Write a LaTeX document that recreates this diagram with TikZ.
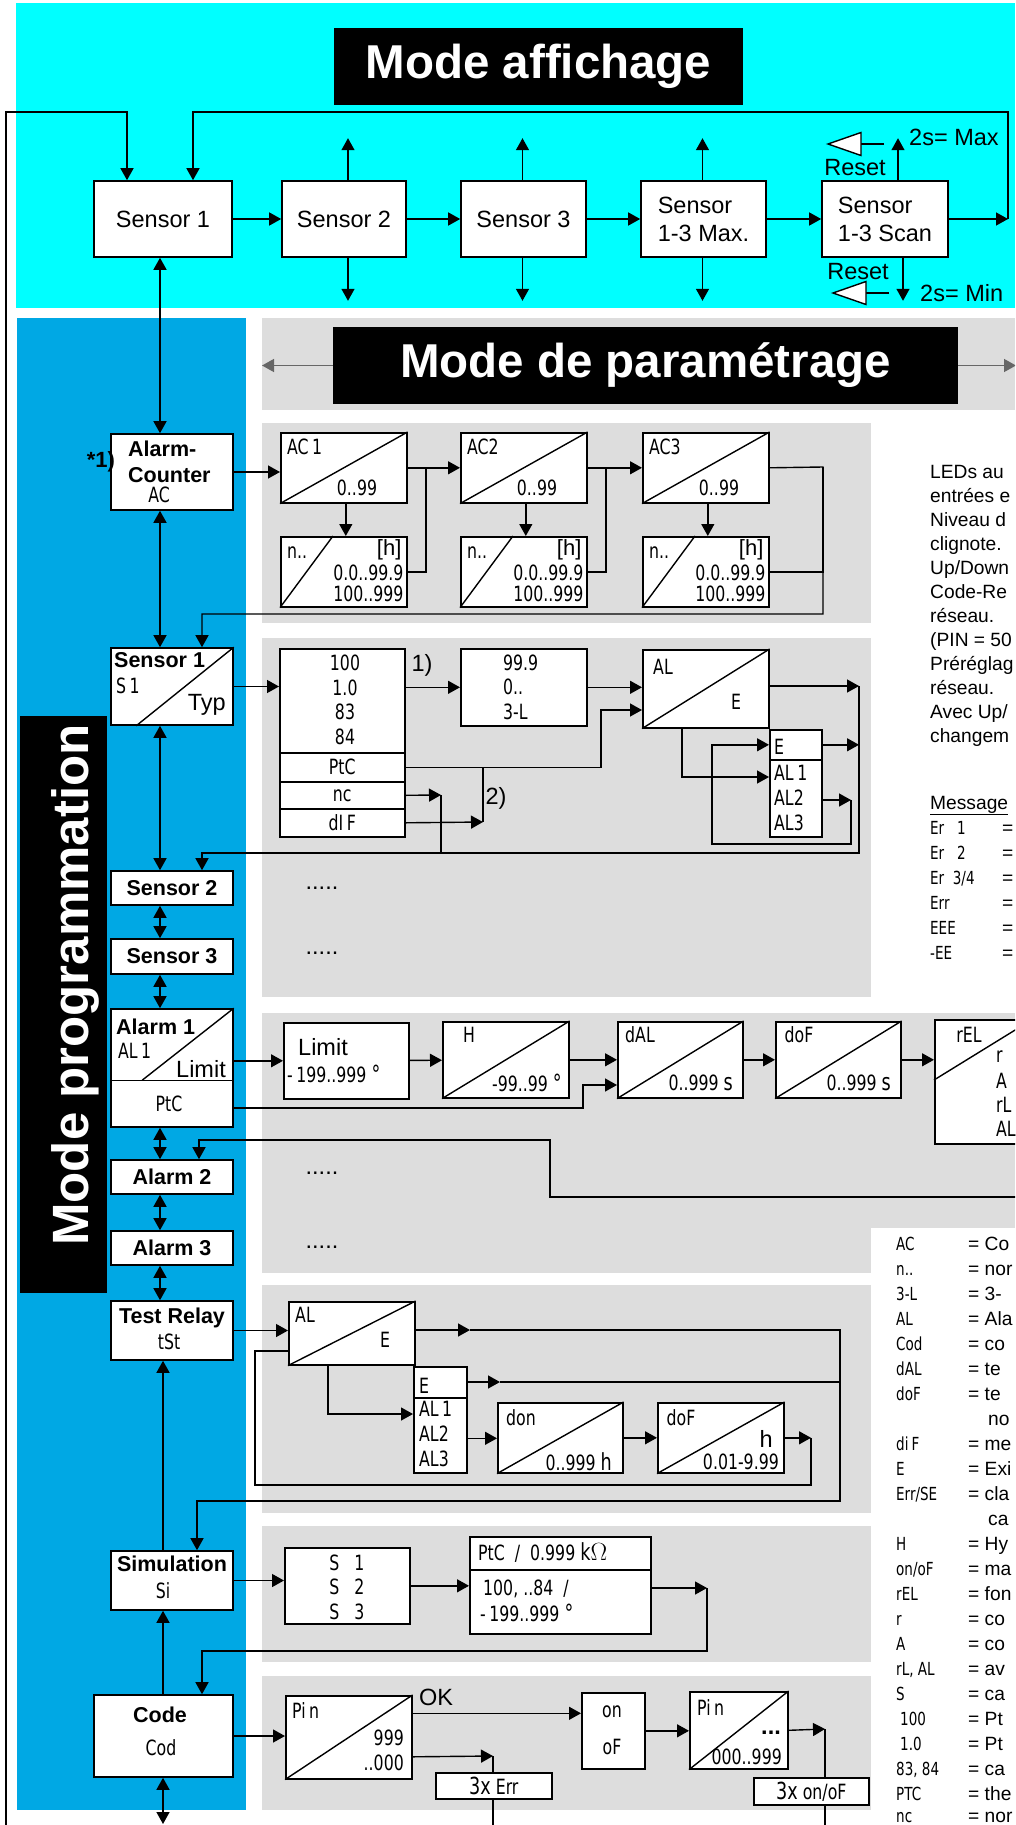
\documentclass[tikz,border=0pt]{standalone}
\usepackage{fontspec}
\setmainfont{Liberation Sans}
\newfontfamily\segfont[FakeStretch=0.75]{DejaVu Sans}
\usetikzlibrary{arrows.meta,positioning,calc}

\definecolor{affcyan}{RGB}{0,255,255}
\definecolor{progblue}{RGB}{0,168,228}
\definecolor{paramgray}{RGB}{221,221,221}

\newcommand*{\normtxt}{\fontsize{23.5}{28}\selectfont}
\newcommand*{\progtxt}{\bfseries\fontsize{21.5}{25}\selectfont}
\newcommand*{\infotxt}{\fontsize{19.2}{24}\selectfont}
\newcommand*{\lcdtxt}{\segfont\fontsize{21}{24.6}\selectfont}
\newcommand*{\lcdsmall}{\segfont\fontsize{18}{22}\selectfont}
\newcommand*{\titletxt}{\bfseries\fontsize{47.5}{50}\selectfont}

\begin{document}
\begin{tikzpicture}[
  x=1pt, y=-1pt,
  conn/.style={line width=1.4pt},
  arr/.style={conn, -{Triangle[length=12pt,width=13pt]}},
  dblarr/.style={conn, {Triangle[length=12pt,width=13pt]}-{Triangle[length=12pt,width=13pt]}},
  txt/.style={inner sep=0pt},
  box/.style={draw, fill=white, line width=1.6pt, inner sep=0pt},
  disp/.style={box, font=\normtxt, align=left},
  prog/.style={box, font=\progtxt, minimum width=122},
  lcd/.style={box, anchor=north west, font=\lcdtxt},
  title/.style={fill=black, text=white, inner sep=0pt, font=\titletxt},
  info/.style={txt, font=\infotxt, anchor=base west},
  legcode/.style={txt, font=\lcdsmall, anchor=base west},
]
  \useasboundingbox (0,0) rectangle (1015,1825);
  \clip (0,0) rectangle (1015,1825);

  % background areas
  \fill[affcyan] (16,3) rectangle (1015,308);
  \fill[progblue] (17,318) rectangle (246,1810);
  \fill[paramgray] (262,318) rectangle (1015,410);
  \fill[paramgray] (262,423) rectangle (871,623);
  \fill[paramgray] (262,638) rectangle (871,997);
  \fill[paramgray] (262,1013) rectangle (1015,1273);
  \fill[paramgray] (262,1285) rectangle (871,1513);
  \fill[paramgray] (262,1526) rectangle (871,1662);
  \fill[paramgray] (262,1676) rectangle (871,1810);
  \fill[white] (871,1228) rectangle (1015,1825);

  % ---------------- Mode affichage ----------------
  \node[title, minimum width=409, minimum height=77] (affich) at (538.5,66.5) {Mode affichage};

  \node[disp, minimum width=138, minimum height=76] (sens1) at (163,219) {Sensor 1};
  \node[disp, minimum width=124, minimum height=76] (sens2) at (344,219) {Sensor 2};
  \node[disp, minimum width=125, minimum height=76] (sens3) at (523.5,219) {Sensor 3};
  \node[disp, minimum width=125, minimum height=76] (sensmax) at (703.5,219) {Sensor\\1-3 Max.};
  \node[disp, minimum width=126, minimum height=76] (sensscan) at (885,219) {Sensor\\1-3 Scan};

  \draw[arr] (sens1) -- (sens2);
  \draw[arr] (sens2) -- (sens3);
  \draw[arr] (sens3) -- (sensmax);
  \draw[arr] (sensmax) -- (sensscan);
  \draw[arr] ([xshift=4pt]sens2.north) -- ++(0,-42);
  \draw[arr] ([xshift=4pt]sens2.south) -- ++(0,43);
  \draw[arr] ([xshift=-1pt]sens3.north) -- ++(0,-42);
  \draw[arr] ([xshift=-1pt]sens3.south) -- ++(0,43);
  \draw[arr] ([xshift=-1pt]sensmax.north) -- ++(0,-42);
  \draw[arr] ([xshift=-1pt]sensmax.south) -- ++(0,43);
  \draw[arr] ([xshift=13pt]sensscan.north) -- ++(0,-42);
  \draw[arr] ([xshift=18pt]sensscan.south) -- ++(0,43);

  % reset keys (white triangles)
  \coordinate (resetup) at (884,144);
  \coordinate (resetdn) at (889,293);
  \draw[conn] (resetup) -- ++(-23,0);
  \filldraw[conn, fill=white] ([xshift=-23pt]resetup) -- ++(0,-11.5) -- ++(-33,11.5) -- ++(33,11.5) -- cycle;
  \draw[conn] (resetdn) -- ++(-23,0);
  \filldraw[conn, fill=white] ([xshift=-23pt]resetdn) -- ++(0,-11.5) -- ++(-33,11.5) -- ++(33,11.5) -- cycle;
  \node[txt, font=\normtxt] (resetuplbl) at (855,168) {Reset};
  \node[txt, font=\normtxt] (resetdnlbl) at (858,272) {Reset};
  \node[txt, font=\normtxt, anchor=west] (maxlbl) at (909,137) {2s= Max};
  \node[txt, font=\normtxt, anchor=west] (minlbl) at (920,293) {2s= Min};

  % loops back to Sensor 1
  \coordinate (loopR) at (1008,219);
  \coordinate (topR) at (193,112);
  \coordinate (topL) at (127,112);
  \coordinate (leftB) at (6,1830);
  \draw[arr] (sensscan) -- (loopR);
  \draw[arr] (loopR) |- (topR) -- (topR |- sens1.north);
  \draw[arr] (leftB) |- (topL) -- (topL |- sens1.north);

  % ---------------- Mode programmation ----------------
  \node[fill=black, minimum width=87, minimum height=577, inner sep=0pt] (progbar) at (63.5,1004.5) {};
  \node[txt, text=white, font=\bfseries\fontsize{51}{55}\selectfont, rotate=90, anchor=base]
    (progtitle) at (88,985) {Mode programmation};

  \node[title, minimum width=625, minimum height=77] (param) at (645.5,365.5) {Mode de paramétrage};
  \coordinate (parL) at (262,365.5);
  \coordinate (parR) at (1016,365.5);
  \draw[arr, black!60] (param) -- (parL);
  \draw[arr, black!60] (param) -- (parR);

  % programming column
  \node[prog, minimum height=76] (pac) at (172,472) {};
  \node[txt, font=\progtxt, anchor=west] (paca) at (128,449) {Alarm-};
  \node[txt, font=\progtxt, anchor=west] (pacb) at (128,475) {Counter};
  \node[txt, font=\lcdtxt] (pacc) at (159,495) {AC};
  \node[txt, font=\bfseries\fontsize{22}{24}\selectfont] (star1) at (101,462) {*1)};

  \node[prog, minimum height=77] (ps1) at (172,686.5) {};
  \draw[conn] ([xshift=26pt]ps1.south west) -- (ps1.north east);
  \node[txt, font=\progtxt, anchor=west] (ps1a) at (114,660) {Sensor 1};
  \node[txt, font=\lcdtxt, anchor=west] (ps1b) at (116,686) {S\,1};
  \node[txt, font=\normtxt, anchor=east] (ps1c) at (226,705) {Typ};

  \node[prog, minimum height=34] (ps2) at (172,888) {Sensor 2};
  \node[prog, minimum height=35] (ps3) at (172,956.5) {Sensor 3};

  \node[prog, minimum height=118] (pa1) at (172,1068) {};
  \draw[conn] ([yshift=-72pt]pa1.north west) -- ([yshift=-72pt]pa1.north east);
  \draw[conn] ([shift={(32pt,-72pt)}]pa1.north west) -- (pa1.north east);
  \node[txt, font=\progtxt, anchor=west] (pa1a) at (116,1027) {Alarm 1};
  \node[txt, font=\lcdtxt, anchor=west] (pa1b) at (118,1051) {AL\,1};
  \node[txt, font=\normtxt, anchor=east] (pa1c) at (226,1069) {Limit};
  \node[txt, font=\lcdtxt] (pa1d) at (169,1104) {PtC};

  \node[prog, minimum height=34] (pa2) at (172,1177) {Alarm 2};
  \node[prog, minimum height=34] (pa3) at (172,1248) {Alarm 3};

  \node[prog, minimum height=59] (ptr) at (172,1330.5) {};
  \node[txt, font=\progtxt] (ptra) at (172,1318) {Test Relay};
  \node[txt, font=\lcdtxt] (ptrb) at (169,1342) {tSt};

  \node[prog, minimum height=59] (psim) at (172,1580.5) {};
  \node[txt, font=\progtxt] (psima) at (172,1564) {Simulation};
  \node[txt, font=\lcdtxt] (psimb) at (163,1591) {Si};

  \node[prog, minimum width=139, minimum height=82] (pcode) at (163.5,1736) {};
  \node[txt, font=\progtxt] (pcodea) at (160,1715) {Code};
  \node[txt, font=\lcdtxt] (pcodeb) at (161,1748) {Cod};

  \coordinate (progx) at (160,0);
  \coordinate (simx) at (163,0);
  \coordinate (codeB) at (163,1824);
  \draw[dblarr] (sens1.south -| progx) -- (pac.north -| progx);
  \foreach \a/\b in {pac/ps1, ps1/ps2, ps2/ps3, ps3/pa1, pa1/pa2, pa2/pa3, pa3/ptr}
    \draw[dblarr] (\a.south -| progx) -- (\b.north -| progx);
  \draw[arr] (psim.north -| simx) -- (ptr.south -| simx);
  \draw[arr] (pcode.north -| simx) -- (psim.south -| simx);
  \draw[dblarr] (pcode.south -| simx) -- (codeB);

  % ---------------- Alarm-Counter ----------------
  \foreach \k/\x in {1/280, 2/460, 3/642} {
    \node[lcd, minimum width=126, minimum height=70] (ac\k) at (\x,432) {};
    \draw[conn] (ac\k.south west) -- (ac\k.north east);
    \node[txt, font=\lcdtxt] (ac\k b) at ([shift={(77pt,16pt)}]ac\k.south west) {0..99};
    \node[lcd, minimum width=126, minimum height=70] (hr\k) at (\x,536) {};
    \draw[conn] (hr\k.south west) -- ([xshift=53pt]hr\k.north west);
    \node[txt, font=\lcdtxt, anchor=west] (hr\k a) at ([shift={(7pt,-17pt)}]hr\k.north west) {n..};
    \node[txt, font=\fontsize{22}{24}\selectfont, anchor=east] (hr\k b) at ([shift={(-6pt,-14pt)}]hr\k.north east) {[h]};
    \node[txt, font=\lcdtxt, anchor=east] (hr\k c) at ([shift={(-4pt,-1pt)}]hr\k.east) {0.0..99.9};
    \node[txt, font=\lcdtxt, anchor=east] (hr\k d) at ([shift={(-4pt,-22pt)}]hr\k.east) {100..999};
    \draw[arr] ([xshift=2pt]ac\k.south) -- ([xshift=2pt]hr\k.north);
  }
  \node[txt, font=\lcdtxt, anchor=west] (ac1a) at (287,447) {AC\,1};
  \node[txt, font=\lcdtxt, anchor=west] (ac2a) at (467,447) {AC2};
  \node[txt, font=\lcdtxt, anchor=west] (ac3a) at (649,447) {AC3};

  \coordinate (acj1) at (426,467);
  \coordinate (acj2) at (606,467);
  \coordinate (acj3) at (823,467);
  \coordinate (acret) at (823,614);
  \coordinate (ps1in) at (202,614);
  \draw[arr] (pac.east) -- (pac.east -| ac1.west);
  \draw[arr] (ac1) -- (ac2);
  \draw[arr] (ac2) -- (ac3);
  \draw[conn] (hr1.east) -| (acj1);
  \draw[conn] (hr2.east) -| (acj2);
  \draw[conn] (hr3.east) -| (acj3);
  \draw[arr] (ac3.east) -- (acj3) -- (acret) -- (ps1in) -- (ps1in |- ps1.north);

  % ---------------- Sensor 1 ----------------
  \node[lcd, minimum width=125, minimum height=104] (typ) at (279,648) {};
  \node[txt, font=\lcdtxt, align=center] (typa) at (345,700) {100\\1.0\\83\\84};
  \node[lcd, minimum width=125, minimum height=29] (rowptc) at (279,752) {PtC};
  \node[lcd, minimum width=125, minimum height=27] (rownc) at (279,781) {nc};
  \node[lcd, minimum width=125, minimum height=28] (rowdif) at (279,808) {dI\,F};
  \node[txt, font=\normtxt] (note1) at (422,665) {1)};
  \node[txt, font=\normtxt] (note2) at (496,798) {2)};

  \node[lcd, minimum width=126, minimum height=77] (typ3l) at (460,648) {};
  \node[txt, font=\lcdtxt, align=left, anchor=west] (typ3la) at (503,687) {99.9\\0..\\3-L};

  \node[lcd, minimum width=126, minimum height=78] (alsel) at (642,649) {};
  \draw[conn] (alsel.south west) -- (alsel.north east);
  \node[txt, font=\lcdtxt] (alsela) at (663,667) {AL};
  \node[txt, font=\lcdtxt] (alselb) at (736,702) {E};
  \node[lcd, minimum width=52, minimum height=30] (rowe) at (769,729) {};
  \node[txt, font=\lcdtxt, anchor=west] (rowea) at (774,747) {E};
  \node[lcd, minimum width=52, minimum height=77] (rowal) at (769,759) {};
  \node[txt, font=\lcdtxt, align=left, anchor=west] (rowala) at (774,798) {AL\,1\\AL2\\AL3};

  \coordinate (ptcup) at (601,710);
  \coordinate (difj) at (483,822);
  \coordinate (ncj) at (441,795);
  \coordinate (s1ret) at (859,686);
  \coordinate (s1retb) at (859,853);
  \coordinate (ps2in) at (202,853);
  \coordinate (alloop) at (851,800);
  \coordinate (alloopb) at (712,844);
  \draw[arr] (ps1.east) -- (ps1.east -| typ.west);
  \draw[arr] (typ3l -| typ.east) -- (typ3l.west);
  \draw[arr] (typ3l.east) -- (typ3l.east -| alsel.west);
  \draw[arr] (rowptc.east) -| (ptcup) -- (ptcup -| alsel.west);
  \draw[arr] (rowdif.east) -- (difj);
  \draw[conn] (difj) -- (difj |- rowptc.east);
  \draw[arr] (rownc.east) -- (ncj);
  \draw[conn] (ncj) -- (ncj |- s1retb);
  \draw[arr] (alsel.east |- s1ret) -- (s1ret);
  \draw[arr] (s1ret) -- (s1retb) -- (ps2in) -- (ps2in |- ps2.north);
  \draw[arr] ([xshift=-24pt]alsel.south) |- ([yshift=-18pt]rowal.north west);
  \draw[arr] (rowal.east |- alloop) -- (alloop);
  \draw[arr] (alloop) |- (alloopb) |- (rowe.west);
  \draw[arr] (rowe.east) -- (rowe.east -| s1ret);

  % dots for Sensor 2/3 and Alarm 2/3
  \node[txt, font=\normtxt, anchor=base] (dots1) at (322,889) {.....};
  \node[txt, font=\normtxt, anchor=base] (dots2) at (322,954) {.....};
  \node[txt, font=\normtxt, anchor=base] (dots3) at (322,1174) {.....};
  \node[txt, font=\normtxt, anchor=base] (dots4) at (322,1248) {.....};

  % ---------------- Alarm 1 ----------------
  \node[lcd, minimum width=125, minimum height=76] (limit) at (283,1022) {};
  \node[txt, font=\normtxt, anchor=west] (limita) at (298,1047) {Limit};
  \node[txt, font=\lcdtxt, anchor=west] (limitb) at (287,1074) {-\,199..999 {\normtxt °}};
  \node[lcd, minimum width=126, minimum height=76] (hyst) at (442,1021) {};
  \draw[conn] (hyst.south west) -- (hyst.north east);
  \node[txt, font=\lcdtxt] (hysta) at (469,1035) {H};
  \node[txt, font=\lcdtxt, anchor=east] (hystb) at (562,1083) {-99..99 {\normtxt °}};
  \node[lcd, minimum width=125, minimum height=76] (dal) at (617,1021) {};
  \draw[conn] (dal.south west) -- (dal.north east);
  \node[txt, font=\lcdtxt] (dala) at (640,1035) {dAL};
  \node[txt, font=\lcdtxt, anchor=east] (dalb) at (733,1083) {0..999 {\normtxt s}};
  \node[lcd, minimum width=125, minimum height=76] (dof) at (775,1021) {};
  \draw[conn] (dof.south west) -- (dof.north east);
  \node[txt, font=\lcdtxt] (dofa) at (799,1035) {doF};
  \node[txt, font=\lcdtxt, anchor=east] (dofb) at (891,1083) {0..999 {\normtxt s}};
  \node[lcd, minimum width=130, minimum height=124] (rel) at (934,1019) {};
  \draw[conn] ([yshift=-61pt]rel.north west) -- ([xshift=99pt]rel.north west);
  \node[txt, font=\lcdtxt] (rela) at (969,1035) {rEL};
  \node[txt, font=\lcdtxt, anchor=west] (relb) at (996,1057) {r};
  \node[txt, font=\lcdtxt, anchor=west] (relc) at (996,1081) {A};
  \node[txt, font=\lcdtxt, anchor=west] (reld) at (996,1105) {rL};
  \node[txt, font=\lcdtxt, anchor=west] (rele) at (996,1129) {AL};

  \coordinate (ptcj) at (583,1085);
  \coordinate (a1ret) at (1020,1197);
  \coordinate (a1retb) at (550,1140);
  \coordinate (pa2in) at (199,1140);
  \draw[arr] (limit -| pa1.east) -- (limit.west);
  \draw[arr] (limit) -- (hyst);
  \draw[arr] (hyst) -- (dal);
  \draw[arr] (dal) -- (dof);
  \draw[arr] (dof.east) -- (dof.east -| rel.west);
  \draw[arr] ([yshift=-40pt]pa1.east) -| (ptcj) -- (ptcj -| dal.west);
  \draw[arr] (a1ret) -| (a1retb) -- (pa2in) -- (pa2in |- pa2.north);

  % ---------------- Test Relay ----------------
  \node[lcd, minimum width=126, minimum height=63] (talsel) at (288,1301) {};
  \draw[conn] (talsel.south west) -- (talsel.north east);
  \node[txt, font=\lcdtxt] (talsela) at (305,1315) {AL};
  \node[txt, font=\lcdtxt] (talselb) at (385,1340) {E};
  \node[lcd, minimum width=53, minimum height=31] (trowe) at (413,1366) {};
  \node[txt, font=\lcdtxt] (trowea) at (424,1386) {E};
  \node[lcd, minimum width=53, minimum height=75] (trowal) at (413,1397) {};
  \node[txt, font=\lcdtxt, align=left, anchor=west] (trowala) at (419,1434) {AL\,1\\AL2\\AL3};
  \node[lcd, minimum width=125, minimum height=70] (don) at (497,1402) {};
  \draw[conn] (don.south west) -- (don.north east);
  \node[txt, font=\lcdtxt] (dona) at (521,1418) {don};
  \node[txt, font=\lcdtxt, anchor=east] (donb) at (612,1462) {0..999 {\normtxt h}};
  \node[lcd, minimum width=126, minimum height=70] (tdof) at (657,1402) {};
  \draw[conn] (tdof.south west) -- (tdof.north east);
  \node[txt, font=\lcdtxt] (tdofa) at (681,1418) {doF};
  \node[txt, font=\normtxt, anchor=east] (tdofb) at (773,1439) {h};
  \node[txt, font=\lcdtxt, anchor=east] (tdofc) at (779,1462) {0.01-9.99};

  \coordinate (trarr) at (470,1330);
  \coordinate (trR) at (840,1330);
  \coordinate (trRb) at (840,1501);
  \coordinate (psimin) at (197,1501);
  \coordinate (trearr) at (500,1382);
  \coordinate (trloop) at (811,1437);
  \coordinate (trloopb) at (255,1485);
  \draw[arr] (ptr.east) -- (ptr.east -| talsel.west);
  \draw[arr] (talsel.east |- trarr) -- (trarr);
  \draw[arr] (trarr) -- (trR) -- (trRb) -- (psimin) -- (psimin |- psim.north);
  \draw[arr] (trowe.east |- trearr) -- (trearr);
  \draw[conn] (trearr) -- (trearr -| trR);
  \draw[arr] ([xshift=-24pt]talsel.south) |- ([yshift=-17pt]trowal.north west);
  \draw[arr] ([yshift=-3pt]trowal.east) -- ([yshift=-3pt]trowal.east -| don.west);
  \draw[arr] (don) -- (tdof);
  \draw[arr] (tdof.east) -- (tdof.east -| trloop);
  \draw[conn] (tdof.east -| trloop) |- (trloopb) |- ([yshift=-50pt]talsel.north west);

  % ---------------- Simulation ----------------
  \node[lcd, minimum width=125, minimum height=76] (ssel) at (284,1547) {};
  \node[txt, font=\lcdtxt, align=left] (ssela) at (347,1587) {S\ \ \ 1\\S\ \ \ 2\\S\ \ \ 3};
  \node[lcd, minimum width=181, minimum height=97] (ptcsim) at (469,1536) {};
  \draw[conn] ([yshift=-34pt]ptcsim.north west) -- ([yshift=-34pt]ptcsim.north east);
  \node[txt, font=\lcdtxt, anchor=west] (ptcsima) at (478,1553) {PtC\ \ /\ \ 0.999 {\normtxt k$\Omega$}};
  \node[txt, font=\lcdtxt, anchor=west] (ptcsimb) at (483,1589) {100,\ ..84\ \ /};
  \node[txt, font=\lcdtxt, anchor=west] (ptcsimc) at (480,1613) {-\,199..999 {\normtxt °}};

  \coordinate (simR) at (707,1588);
  \coordinate (pcodein) at (202,1651);
  \draw[arr] (psim.east) -- (psim.east -| ssel.west);
  \draw[arr] (ssel.east) -- (ssel.east -| ptcsim.west);
  \draw[arr] (ptcsim.east |- simR) -- (simR);
  \draw[arr] (simR) |- (pcodein) -- (pcodein |- pcode.north);

  % ---------------- Code ----------------
  \node[lcd, minimum width=126, minimum height=83] (pin) at (285,1695) {};
  \draw[conn] (pin.south west) -- (pin.north east);
  \node[txt, font=\lcdtxt, anchor=west] (pina) at (292,1711) {Pi\,n};
  \node[txt, font=\lcdtxt, anchor=east] (pinb) at (404,1738) {999};
  \node[txt, font=\lcdtxt, anchor=east] (pinc) at (404,1763) {..000};
  \node[txt, font=\normtxt] (oklbl) at (436,1697) {OK};
  \node[lcd, minimum width=63, minimum height=76] (onof) at (581,1692) {};
  \node[txt, font=\lcdtxt] (onofa) at (612,1712) {on};
  \node[txt, font=\lcdtxt] (onofb) at (612,1747) {oF};
  \node[lcd, minimum width=98, minimum height=77] (pin2) at (689,1691) {};
  \draw[conn] (pin2.south west) -- (pin2.north east);
  \node[txt, font=\lcdtxt, anchor=west] (pin2a) at (697,1708) {Pi\,n};
  \node[txt, font=\bfseries\normtxt, anchor=east] (pin2b) at (781,1733) {...};
  \node[txt, font=\lcdtxt, anchor=east] (pin2c) at (782,1757) {000..999};

  \coordinate (pinE) at (493,1756);
  \coordinate (pinEb) at (493,1830);
  \coordinate (pin2E) at (825,1729);
  \coordinate (pin2Eb) at (825,1830);
  \draw[arr] (pcode.east) -- (pcode.east -| pin.west);
  \draw[arr] ([yshift=24pt]pin.east) -- ([yshift=24pt]pin.east -| onof.west);
  \draw[arr] ([yshift=-19.5pt]pin.east) -- (pinE);
  \draw[conn] (pinE) -- (pinEb);
  \draw[arr] (onof.east) -- (onof.east -| pin2.west);
  \draw[arr] (pin2.east) -- (pin2E);
  \draw[conn] (pin2E) -- (pin2Eb);
  \node[lcd, minimum width=116, minimum height=26] (err3) at (435,1772) {{\normtxt 3x} Err};
  \node[lcd, minimum width=115, minimum height=27] (onof3) at (753,1777) {{\normtxt 3x} on/oF};

  % ---------------- notes on the right ----------------
  \node[info] (info1) at (930,478) {LEDs au};
  \node[info] (info2) at (930,502) {entrées e};
  \node[info] (info3) at (930,526) {Niveau d};
  \node[info] (info4) at (930,550) {clignote.};
  \node[info] (info5) at (930,574) {Up/Down};
  \node[info] (info6) at (930,598) {Code-Re};
  \node[info] (info7) at (930,622) {réseau.};
  \node[info] (info8) at (930,646) {(PIN = 50};
  \node[info] (info9) at (930,670) {Préréglag};
  \node[info] (info10) at (930,694) {réseau.};
  \node[info] (info11) at (930,718) {Avec Up/};
  \node[info] (info12) at (930,742) {changem};
  \node[info] (msg) at (930,809) {\underline{Message}};
  \node[legcode] (err1) at (930,834) {Er\ \ \ 1};
  \node[legcode] (err2) at (930,859) {Er\ \ \ 2};
  \node[legcode] (err3b) at (930,884) {Er\ \ 3/4};
  \node[legcode] (err4) at (930,909) {Err};
  \node[legcode] (err5) at (930,934) {EEE};
  \node[legcode] (err6) at (930,959) {-EE};
  \foreach \yy in {834,859,884,909,934,959}
    \node[info] at (1002,\yy) {=};

  % legend
  \node[legcode] (leg1) at (896,1250) {AC};
  \node[legcode] (leg2) at (896,1275) {n..};
  \node[legcode] (leg3) at (896,1300) {3-L};
  \node[legcode] (leg4) at (896,1325) {AL};
  \node[legcode] (leg5) at (896,1350) {Cod};
  \node[legcode] (leg6) at (896,1375) {dAL};
  \node[legcode] (leg7) at (896,1400) {doF};
  \node[legcode] (leg9) at (896,1450) {di\,F};
  \node[legcode] (leg10) at (896,1475) {E};
  \node[legcode] (leg11) at (896,1500) {Err/SE};
  \node[legcode] (leg13) at (896,1550) {H};
  \node[legcode] (leg14) at (896,1575) {on/oF};
  \node[legcode] (leg15) at (896,1600) {rEL};
  \node[legcode] (leg16) at (896,1625) {r};
  \node[legcode] (leg17) at (896,1650) {A};
  \node[legcode] (leg18) at (896,1675) {rL, AL};
  \node[legcode] (leg19) at (896,1700) {S};
  \node[legcode] (leg20) at (900,1725) {100};
  \node[legcode] (leg21) at (900,1750) {1.0};
  \node[legcode] (leg22) at (896,1775) {83, 84};
  \node[legcode] (leg23) at (896,1800) {PTC};
  \node[legcode] (leg24) at (896,1822) {nc};

  \node[info] (legd1) at (968,1250) {= Co};
  \node[info] (legd2) at (968,1275) {= nor};
  \node[info] (legd3) at (968,1300) {= 3-};
  \node[info] (legd4) at (968,1325) {= Ala};
  \node[info] (legd5) at (968,1350) {= co};
  \node[info] (legd6) at (968,1375) {= te};
  \node[info] (legd7) at (968,1400) {= te};
  \node[info] (legd8) at (988,1425) {no};
  \node[info] (legd9) at (968,1450) {= me};
  \node[info] (legd10) at (968,1475) {= Exi};
  \node[info] (legd11) at (968,1500) {= cla};
  \node[info] (legd12) at (988,1525) {ca};
  \node[info] (legd13) at (968,1550) {= Hy};
  \node[info] (legd14) at (968,1575) {= ma};
  \node[info] (legd15) at (968,1600) {= fon};
  \node[info] (legd16) at (968,1625) {= co};
  \node[info] (legd17) at (968,1650) {= co};
  \node[info] (legd18) at (968,1675) {= av};
  \node[info] (legd19) at (968,1700) {= ca};
  \node[info] (legd20) at (968,1725) {= Pt};
  \node[info] (legd21) at (968,1750) {= Pt};
  \node[info] (legd22) at (968,1775) {= ca};
  \node[info] (legd23) at (968,1800) {= the};
  \node[info] (legd24) at (968,1822) {= nor};
\end{tikzpicture}
\end{document}
